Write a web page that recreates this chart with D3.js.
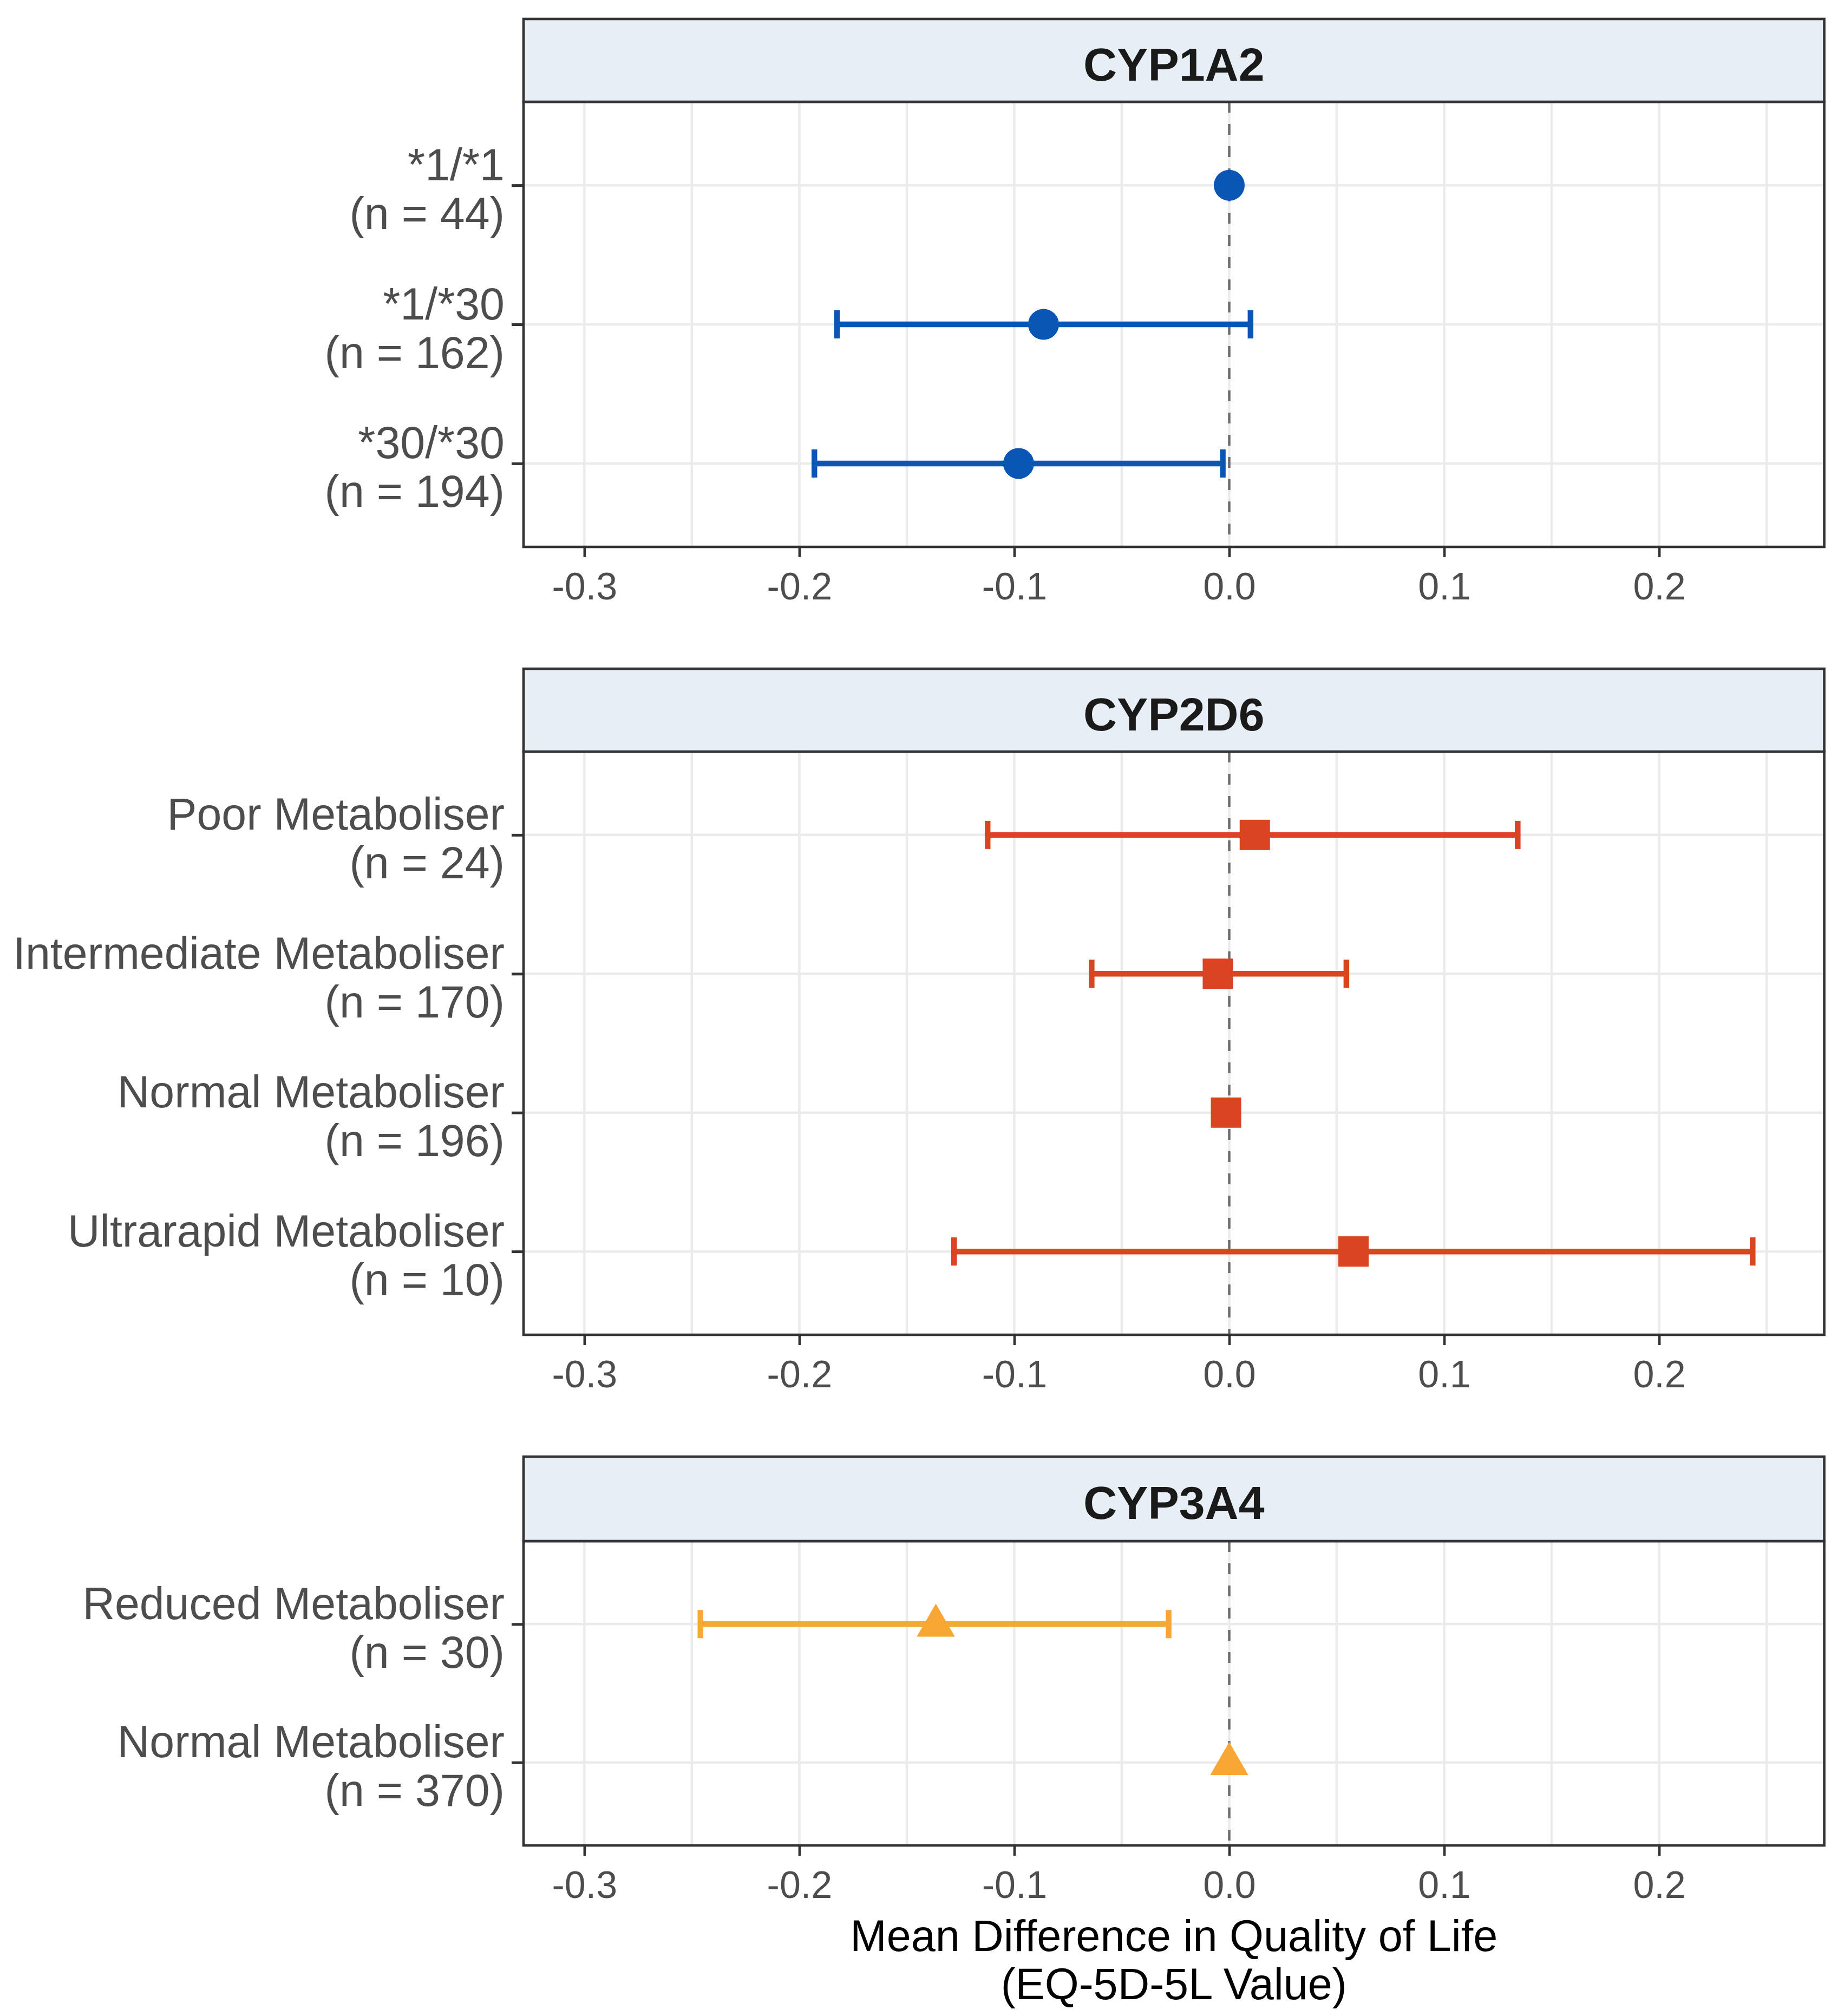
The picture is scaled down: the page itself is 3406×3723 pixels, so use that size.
<!DOCTYPE html>
<html>
<head>
<meta charset="utf-8">
<script src="https://cdn.jsdelivr.net/npm/d3@7"></script>
<style>
  body { margin: 0; background: #fff; }
  svg { display: block; font-family: "Liberation Sans", Arial, sans-serif; }
</style>
</head>
<body>
<div class="graph"></div>
<script>
// Data
var genes = ["CYP1A2", "CYP2D6", "CYP3A4"];

var cyp1a2Groups = ["*1/*1", "*1/*30", "*30/*30"];
var cyp1a2N      = [44, 162, 194];
var cyp1a2Est    = [0, -0.0864, -0.098];
var cyp1a2Lo     = [null, -0.1825, -0.193];
var cyp1a2Hi     = [null, 0.0099, -0.003];

var cyp2d6Groups = ["Poor Metaboliser", "Intermediate Metaboliser", "Normal Metaboliser", "Ultrarapid Metaboliser"];
var cyp2d6N      = [24, 170, 196, 10];
var cyp2d6Est    = [0.0119, -0.0053, -0.0015, 0.0578];
var cyp2d6Lo     = [-0.1124, -0.064, null, -0.128];
var cyp2d6Hi     = [0.1342, 0.0545, null, 0.2435];

var cyp3a4Groups = ["Reduced Metaboliser", "Normal Metaboliser"];
var cyp3a4N      = [30, 370];
var cyp3a4Est    = [-0.1365, 0];
var cyp3a4Lo     = [-0.246, null];
var cyp3a4Hi     = [-0.0282, null];

var xTicks = [-0.3, -0.2, -0.1, 0.0, 0.1, 0.2];
var xTitle = ["Mean Difference in Quality of Life", "(EQ-5D-5L Value)"];

// Configuration
var colours = ["#0A56B4", "#D94520", "#F8A735"];
var shapes  = ["circle", "square", "triangle"];

var width = 3406,
    height = 3723,
    left = 967,
    right = 3369.5;

// vertical layout of each facet: strip top, panel top, panel bottom
var layout = [
    {strip: 35,   top: 188,  bottom: 1010},
    {strip: 1235, top: 1388, bottom: 2465},
    {strip: 2690, top: 2846, bottom: 3408}
];

function rows(groups, n, est, lo, hi) {
    return groups.map(function(g, i) {
        return {group: g, n: n[i], est: est[i], lo: lo[i], hi: hi[i]};
    });
}

var facets = [
    rows(cyp1a2Groups, cyp1a2N, cyp1a2Est, cyp1a2Lo, cyp1a2Hi),
    rows(cyp2d6Groups, cyp2d6N, cyp2d6Est, cyp2d6Lo, cyp2d6Hi),
    rows(cyp3a4Groups, cyp3a4N, cyp3a4Est, cyp3a4Lo, cyp3a4Hi)
];

var x = d3.scaleLinear()
    .domain([-0.3283, 0.2768])
    .range([left, right]);

var svg = d3.select(".graph").append("svg")
    .attr("width", width)
    .attr("height", height);

facets.forEach(function(data, k) {
    var L = layout[k];
    var y = d3.scalePoint()
        .domain(data.map(function(d) { return d.group; }))
        .range([L.top, L.bottom])
        .padding(0.6);

    var g = svg.append("g");

    // panel background
    g.append("rect")
        .attr("x", left).attr("y", L.top)
        .attr("width", right - left).attr("height", L.bottom - L.top)
        .style("fill", "#fff");

    // gridlines
    g.selectAll(".vgrid")
        .data(x.ticks(12))
        .enter().append("line")
        .attr("x1", function(d) { return x(d); })
        .attr("x2", function(d) { return x(d); })
        .attr("y1", L.top).attr("y2", L.bottom)
        .style("stroke", "#EBEBEB")
        .style("stroke-width", 4.5);

    g.selectAll(".hgrid")
        .data(data)
        .enter().append("line")
        .attr("x1", left).attr("x2", right)
        .attr("y1", function(d) { return y(d.group); })
        .attr("y2", function(d) { return y(d.group); })
        .style("stroke", "#EBEBEB")
        .style("stroke-width", 4.5);

    // reference line at zero
    g.append("line")
        .attr("x1", x(0)).attr("x2", x(0))
        .attr("y1", L.top).attr("y2", L.bottom)
        .style("stroke", "#6E6E6E")
        .style("stroke-width", 4.5)
        .style("stroke-dasharray", "20,21");

    var ci = data.filter(function(d) { return d.lo !== null; });

    // error bars
    var eb = g.selectAll(".eb")
        .data(ci)
        .enter().append("g")
        .style("stroke", colours[k])
        .style("stroke-width", 10.5);

    eb.append("line")
        .attr("x1", function(d) { return x(d.lo); })
        .attr("x2", function(d) { return x(d.hi); })
        .attr("y1", function(d) { return y(d.group); })
        .attr("y2", function(d) { return y(d.group); });

    ["lo", "hi"].forEach(function(end) {
        eb.append("line")
            .attr("x1", function(d) { return x(d[end]); })
            .attr("x2", function(d) { return x(d[end]); })
            .attr("y1", function(d) { return y(d.group) - 26; })
            .attr("y2", function(d) { return y(d.group) + 26; });
    });

    // points
    var pts = g.selectAll(".pt")
        .data(data)
        .enter();

    if (shapes[k] === "circle") {
        pts.append("circle")
            .attr("cx", function(d) { return x(d.est); })
            .attr("cy", function(d) { return y(d.group); })
            .attr("r", 28.5)
            .style("fill", colours[k]);
    } else if (shapes[k] === "square") {
        pts.append("rect")
            .attr("x", function(d) { return x(d.est) - 28; })
            .attr("y", function(d) { return y(d.group) - 28; })
            .attr("width", 56).attr("height", 56)
            .style("fill", colours[k]);
    } else {
        pts.append("path")
            .attr("d", d3.symbol(d3.symbolTriangle, 2150))
            .attr("transform", function(d) {
                return "translate(" + x(d.est) + "," + (y(d.group) + 3) + ")";
            })
            .style("fill", colours[k]);
    }

    // panel border
    g.append("rect")
        .attr("x", left).attr("y", L.top)
        .attr("width", right - left).attr("height", L.bottom - L.top)
        .style("fill", "none")
        .style("stroke", "#333333")
        .style("stroke-width", 4.6);

    // strip
    g.append("rect")
        .attr("x", left).attr("y", L.strip)
        .attr("width", right - left).attr("height", L.top - L.strip)
        .style("fill", "#E7EEF6")
        .style("stroke", "#333333")
        .style("stroke-width", 4.6);

    g.append("text")
        .attr("x", (left + right) / 2)
        .attr("y", (L.strip + L.top) / 2 + 37)
        .attr("text-anchor", "middle")
        .style("font-size", "86px")
        .style("font-weight", "bold")
        .style("fill", "#1A1A1A")
        .text(genes[k]);

    // y axis
    var yAxis = g.append("g")
        .attr("transform", "translate(" + left + ",0)")
        .call(d3.axisLeft(y).tickSize(22).tickSizeOuter(0));
    yAxis.select(".domain").remove();
    yAxis.selectAll(".tick line")
        .style("stroke", "#333333")
        .style("stroke-width", 5);
    yAxis.selectAll(".tick text").each(function(d, i) {
        var t = d3.select(this)
            .text(null)
            .attr("dy", null)
            .attr("text-anchor", "end")
            .style("font-size", "82.5px")
            .style("fill", "#4D4D4D");
        t.append("tspan").attr("x", -35).attr("y", -10).text(d);
        t.append("tspan").attr("x", -35).attr("y", 80).text("(n = " + data[i].n + ")");
    });

    // x axis
    var xAxis = g.append("g")
        .attr("transform", "translate(0," + L.bottom + ")")
        .call(d3.axisBottom(x)
            .tickValues(xTicks)
            .tickSize(19)
            .tickSizeOuter(0)
            .tickFormat(function(d) { return d.toFixed(1); }));
    xAxis.select(".domain").remove();
    xAxis.selectAll(".tick line")
        .style("stroke", "#333333")
        .style("stroke-width", 4.6);
    xAxis.selectAll(".tick text")
        .attr("y", 97)
        .attr("dy", null)
        .style("font-size", "70px")
        .style("fill", "#4D4D4D");
});

// x axis title
svg.append("text")
    .attr("x", (left + right) / 2)
    .attr("text-anchor", "middle")
    .style("font-size", "81px")
    .style("fill", "#000")
    .selectAll("tspan")
    .data(xTitle)
    .enter().append("tspan")
    .attr("x", (left + right) / 2)
    .attr("y", function(d, i) { return 3603 + i * 89; })
    .text(function(d) { return d; });
</script>
</body>
</html>
